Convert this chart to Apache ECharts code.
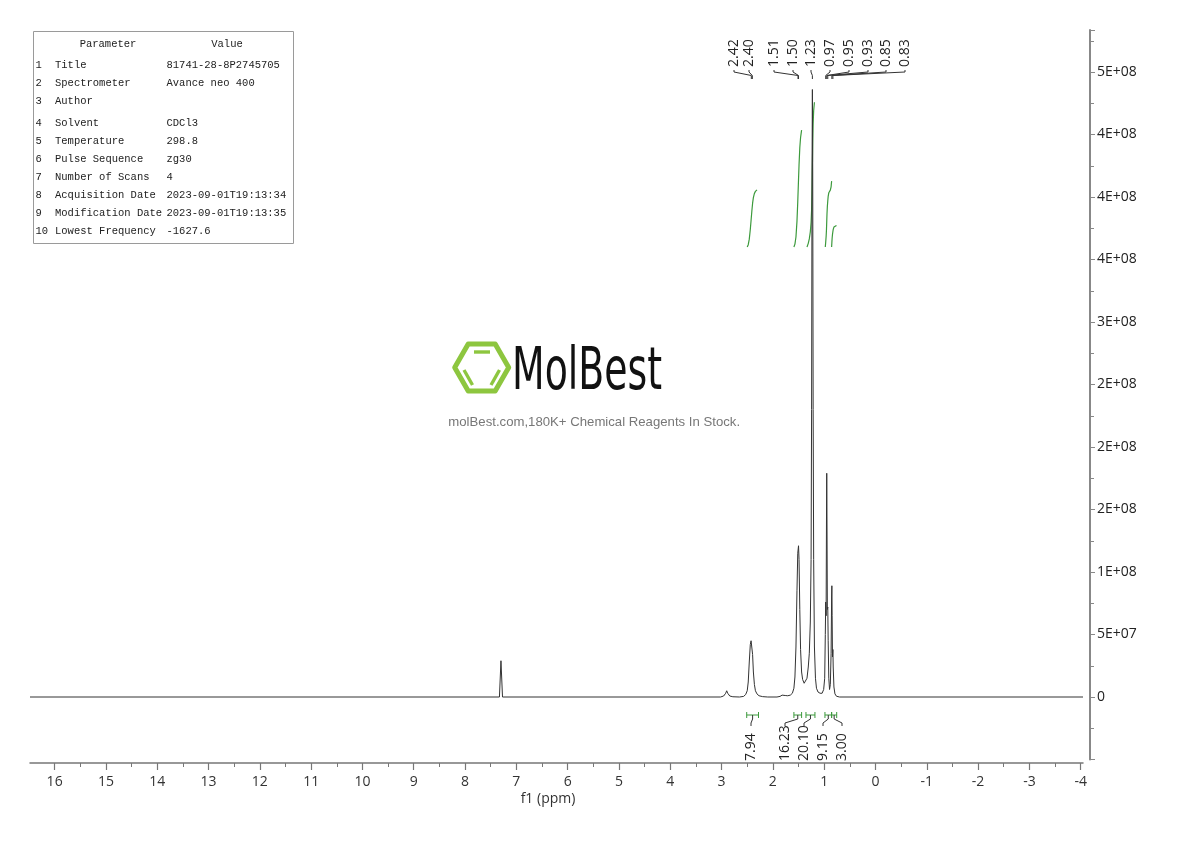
<!DOCTYPE html>
<html><head><meta charset="utf-8">
<script src="https://cdn.jsdelivr.net/npm/echarts@6/dist/echarts.min.js"></script>
<style>html,body{margin:0;padding:0;background:#fff;}#c{width:1190px;height:841px;}</style>
</head><body><div id="c"></div>
<script>
// ---------------- data ----------------
const xTickValues = [16,15,14,13,12,11,10,9,8,7,6,5,4,3,2,1,0,-1,-2,-3,-4];
const xMinorTickValues = [15.5,14.5,13.5,12.5,11.5,10.5,9.5,8.5,7.5,6.5,5.5,4.5,3.5,2.5,1.5,0.5,-0.5,-1.5,-2.5,-3.5];
const yTickLabels = ['0','5E+07','1E+08','2E+08','2E+08','2E+08','3E+08','4E+08','4E+08','4E+08','5E+08'];
const spectrum = [
 [16.48,0],[7.33,0],[7.30,29e6],[7.27,0],
 [3.02,0],[2.96,0.8e6],[2.92,3e6],[2.90,5e6],[2.88,3e6],[2.84,0.8e6],[2.78,0.2e6],[2.65,0],
 [2.57,0.5e6],[2.53,2e6],[2.50,5e6],[2.48,12e6],[2.46,28e6],[2.44,42e6],[2.425,45e6],[2.41,44e6],[2.395,34e6],[2.38,20e6],[2.36,10e6],[2.34,5e6],[2.31,2.5e6],[2.27,1e6],[2.2,0.3e6],[2.1,0],
 [1.92,0],[1.86,0.5e6],[1.82,1.5e6],[1.79,1.8e6],[1.76,1.2e6],[1.71,1e6],[1.66,1.5e6],[1.62,3e6],[1.59,7e6],[1.57,16e6],[1.55,40e6],[1.53,85e6],[1.515,115e6],[1.50,121e6],[1.49,110e6],[1.475,70e6],[1.46,38e6],[1.44,20e6],[1.42,14e6],[1.39,11e6],[1.36,11e6],[1.335,15e6],[1.31,24e6],[1.29,35e6],[1.27,60e6],[1.255,110e6],[1.245,230e6],[1.237,420e6],[1.23,486e6],[1.223,420e6],[1.215,230e6],[1.205,110e6],[1.19,40e6],[1.17,15e6],[1.15,7e6],[1.12,4e6],[1.08,3e6],[1.04,3e6],[1.01,6e6],
 [0.99,15e6],[0.978,50e6],[0.97,76e6],[0.962,65e6],[0.955,140e6],[0.95,179e6],[0.945,140e6],[0.938,70e6],[0.93,72e6],[0.922,45e6],[0.91,15e6],[0.895,6e6],[0.88,10e6],[0.865,35e6],[0.855,80e6],[0.85,89e6],[0.845,65e6],[0.838,32e6],[0.83,38e6],[0.824,24e6],[0.81,8e6],[0.79,2.5e6],[0.76,0.6e6],[0.70,0],[-4.045,0]
];
const peakLabels = ['2.42','2.40','1.51','1.50','1.23','0.97','0.95','0.93','0.85','0.83'];
const peakPpm = [2.42,2.40,1.51,1.50,1.23,0.97,0.95,0.93,0.85,0.83];
const integralRanges = [[2.51,2.28],[1.59,1.44],[1.355,1.18],[0.985,0.855],[0.855,0.756]];
const integralValues = [7.94,16.23,20.10,9.15,3.00];
const integralLabels = ['7.94','16.23','20.10','9.15','3.00'];
const paramNumbers = ['1','2','3','4','5','6','7','8','9','10'];
const paramNames = ['Title','Spectrometer','Author','Solvent','Temperature','Pulse Sequence','Number of Scans','Acquisition Date','Modification Date','Lowest Frequency'];
const paramValues = ['81741-28-8P2745705','Avance neo 400','','CDCl3','298.8','zg30','4','2023-09-01T19:13:34','2023-09-01T19:13:35','-1627.6'];

// ---------------- layout / style constants ----------------
const peakLabelLayoutX = [734,749,774,793,811,830,849,868,886,905];
const integralLabelLayoutX = [751,785,804,823,842];
const paramRowY = [65,83,101,123,141,159,177,195,213,231];
const INT_BASE = 3.6e8, INT_UNIT = 5.76e6;
const GREEN = '#3c9a3c';
const AXIS_FONT = '"Open Sans", "Noto Sans", sans-serif';

function integralCurve(range, value) {
  const pts = spectrum.filter(p => p[0] <= range[0] && p[0] >= range[1]);
  const cum = [0];
  for (let i = 1; i < pts.length; i++) {
    cum.push(cum[i-1] + (pts[i-1][0]-pts[i][0])*(pts[i-1][1]+pts[i][1])/2);
  }
  const total = cum[cum.length-1] || 1;
  return pts.map((p,i) => [p[0], INT_BASE + cum[i]/total*value*INT_UNIT]);
}

const chart = echarts.init(document.getElementById('c'), null, {renderer:'canvas'});
const series = [{
  type:'line', data: spectrum, showSymbol:false, symbol:'none', smooth:false,
  lineStyle:{color:'#333', width:1}, animation:false, z:3
}];
integralRanges.forEach((r,i) => {
  series.push({type:'line', data: integralCurve(r, integralValues[i]), showSymbol:false, symbol:'none',
    lineStyle:{color:GREEN, width:1.2}, animation:false, z:2});
});

chart.setOption({
  animation:false,
  backgroundColor:'#fff',
  grid:{left:30, right:107, top:30, bottom:81.5, containLabel:false, outerBoundsMode:'none'},
  xAxis:[{
    type:'value', inverse:true, min:-4.045, max:16.48, position:'bottom', offset:3.5,
    axisLine:{show:true, onZero:false, lineStyle:{color:'#777', width:1.5}},
    axisTick:{show:true, length:7, inside:false, customValues:xTickValues, lineStyle:{color:'#777', width:1.2}},
    axisLabel:{show:true, customValues:xTickValues, margin:12, color:'#333', fontSize:14, fontFamily:AXIS_FONT},
    splitLine:{show:false}
  },{
    type:'value', inverse:true, min:-4.045, max:16.48, position:'bottom', offset:3.5,
    axisLine:{show:false, onZero:false},
    axisTick:{show:true, length:4, customValues:xMinorTickValues, lineStyle:{color:'#777', width:1}},
    axisLabel:{show:false, customValues:xMinorTickValues},
    splitLine:{show:false}
  }],
  yAxis:{
    type:'value', position:'right', offset:7, min:-5e7, max:5.336e8, interval:5e7,
    axisLine:{show:true, onZero:false, lineStyle:{color:'#888', width:2}},
    axisTick:{show:true, length:5, lineStyle:{color:'#888'}},
    minorTick:{show:true, splitNumber:2, length:4, lineStyle:{color:'#888'}},
    axisLabel:{show:true, margin:7, color:'#222', fontSize:14, fontFamily:AXIS_FONT, showMaxLabel:false,
      formatter:function(v){ if (v < 0) return ''; const i = Math.round(v/5e7); return (Math.abs(v - i*5e7) < 1 && i < yTickLabels.length) ? yTickLabels[i] : ''; }},
    splitLine:{show:false}
  },
  series: series
});

// ---------------- annotations ----------------
const toX = ppm => chart.convertToPixel({xAxisIndex:0, yAxisIndex:0}, [ppm, 0])[0];
const g = [];
const vtext = (t, x, y, color, font) => ({type:'text', x:x, y:y, rotation:Math.PI/2, z:10,
  style:{text:t, font:font, fill:color, textAlign:'left', textVerticalAlign:'middle', align:'left', verticalAlign:'middle'}});
const pline = (pts, color, w) => ({type:'polyline', z:10, shape:{points:pts}, style:{stroke:color, lineWidth:w||1, fill:null}});

// peak labels
peakLabels.forEach((t,i) => {
  const lx = peakLabelLayoutX[i], px = toX(peakPpm[i]);
  g.push(vtext(t, lx, 67, '#222', '14px ' + AXIS_FONT));
  g.push(pline([[lx,70],[lx,72],[px,75.5],[px,79]], '#333', 1));
});

// integral brackets and labels
integralRanges.forEach((r,i) => {
  const x1 = toX(r[0]), x2 = toX(r[1]), cx = (x1+x2)/2, lx = integralLabelLayoutX[i];
  g.push(pline([[x1,715],[x2,715]], GREEN, 1));
  g.push(pline([[x1,712],[x1,718]], GREEN, 1));
  g.push(pline([[x2,712],[x2,718]], GREEN, 1));
  g.push(pline([[cx,715],[cx,719],[lx,723],[lx,726]], '#333', 1));
  g.push(vtext(integralLabels[i], lx, 761, '#222', '14px ' + AXIS_FONT));
});

// axis name
g.push({type:'text', x:548, y:799, z:10, style:{text:'f1 (ppm)', font:'14px ' + AXIS_FONT, fill:'#333', textAlign:'center', textVerticalAlign:'middle', align:'center', verticalAlign:'middle'}});

// parameter table
g.push({type:'rect', z:9, shape:{x:33.5, y:31.5, width:260, height:212}, style:{fill:'#fff', stroke:'#9a9a9a', lineWidth:1}});
const MONO = '10.5px "Liberation Mono", "DejaVu Sans Mono", monospace';
const txt = (t, x, y, align) => ({type:'text', x:x, y:y, z:11, style:{text:t, font:MONO, fill:'#222', textAlign:align||'left', textVerticalAlign:'middle', align:align||'left', verticalAlign:'middle'}});
g.push(txt('Parameter', 108, 44, 'center'));
g.push(txt('Value', 227, 44, 'center'));
paramNames.forEach((n,i) => {
  g.push(txt(paramNumbers[i], 35.5, paramRowY[i]));
  g.push(txt(n, 55, paramRowY[i]));
  if (paramValues[i]) g.push(txt(paramValues[i], 166.5, paramRowY[i]));
});

// watermark logo
const LG = '#8dc63f';
const cxh = 481.7, cyh = 367.5, R = 27;
const hex = [];
for (let k = 0; k < 6; k++) { const a = k*Math.PI/3; hex.push([cxh + R*Math.cos(a), cyh - R*Math.sin(a)]); }
g.push({type:'polygon', z:1, shape:{points:hex}, style:{fill:null, stroke:LG, lineWidth:5, lineJoin:'round'}});
const inner = [[[474,352],[490,352]], [[464,370],[472.5,385]], [[491,385],[499.5,370]]];
inner.forEach(p => { const e = pline(p, LG, 3.4); e.z = 1; g.push(e); });
const mctx = document.createElement('canvas').getContext('2d');
const LOGO_FONT = '58px "DejaVu Sans Condensed", "DejaVu Sans", sans-serif';
mctx.font = LOGO_FONT;
const lw = mctx.measureText('MolBest').width;
g.push({type:'text', x:512, y:374, scaleX:150/lw, z:1, style:{text:'MolBest', font:LOGO_FONT, fill:'#111', textAlign:'left', textVerticalAlign:'middle', align:'left', verticalAlign:'middle'}});
const CAP = 'molBest.com,180K+ Chemical Reagents In Stock.';
mctx.font = '12px "Liberation Sans", Arial, sans-serif';
const cw = mctx.measureText(CAP).width;
const capSize = (12*292/cw).toFixed(2);
g.push({type:'text', x:594.2, y:422, z:1, style:{text:CAP, font:capSize + 'px "Liberation Sans", Arial, sans-serif', fill:'#777', textAlign:'center', textVerticalAlign:'middle', align:'center', verticalAlign:'middle'}});

chart.setOption({graphic:{elements:g}});
</script></body></html>
